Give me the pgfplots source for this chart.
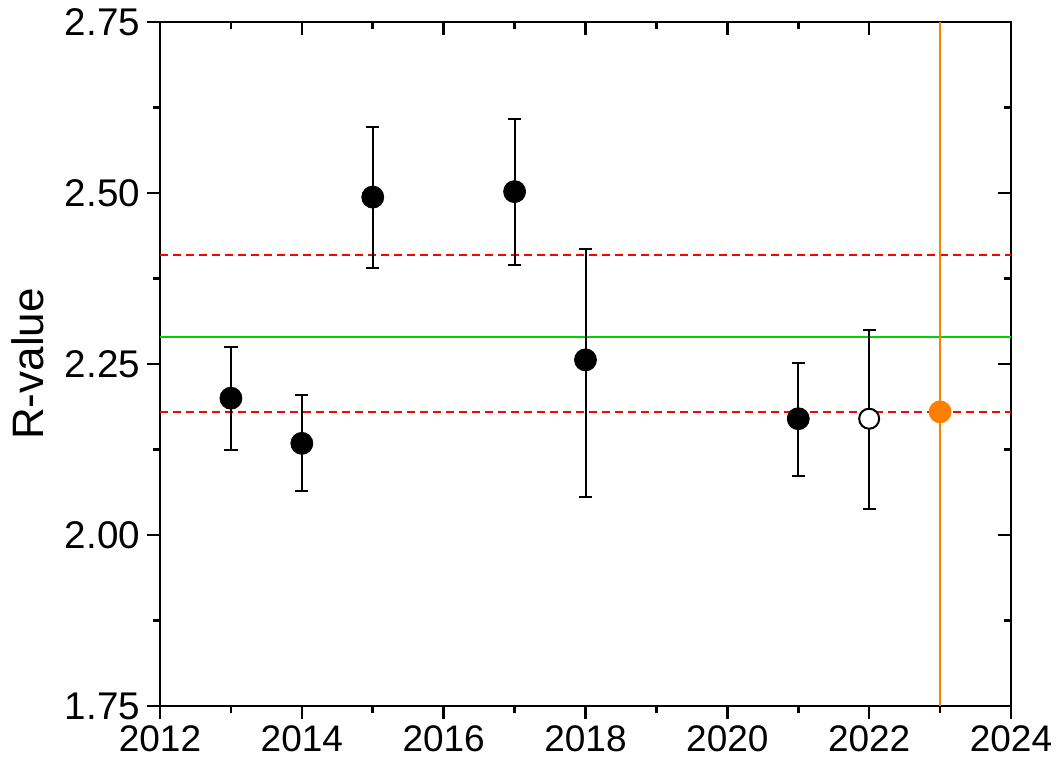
\documentclass[border=0pt]{standalone}
\usepackage{pgfplots}
\pgfplotsset{compat=1.18}
\usepackage{fontspec}
\setmainfont{Liberation Sans}
\definecolor{myorange}{RGB}{255,128,0}
\definecolor{mygreen}{RGB}{0,210,0}
\pgfplotsset{
  common/.style={
    scale only axis, width=425.5bp, height=342bp,
    xmin=2012, xmax=2024, ymin=1.75, ymax=2.75,
    xtick={2012,2014,2016,2018,2020,2022,2024},
    ytick={1.75,2.00,2.25,2.50,2.75},
    minor x tick num=1, minor y tick num=1,
    major tick length=6.5bp, minor tick length=3.5bp,
    axis line style={line width=1.3bp},
    every tick/.append style={black, line width=1.3bp},
    x tick label style={font=\fontsize{18.5bp}{22bp}\selectfont},
    y tick label style={font=\fontsize{19.3bp}{22bp}\selectfont},
  }
}
\begin{document}
\begin{tikzpicture}
% top/right inward ticks (drawn first, so the data lie above them)
\begin{axis}[common,
  xtick pos=right, ytick pos=right, tick align=inside,
  xticklabels={}, yticklabels={},
]
\end{axis}
\begin{axis}[common,
  xtick pos=left, ytick pos=left, tick align=outside,
  xticklabels={2012,2014,2016,2018,2020,2022,2024},
  yticklabels={1.75,2.00,2.25,2.50,2.75},
  ylabel={R-value},
  ylabel style={font=\fontsize{22bp}{26bp}\selectfont, at={(axis description cs:-0.155,0.5)}, anchor=center, rotate=0},
  clip=true,
]
% reference lines
\addplot[mygreen, line width=1bp, forget plot] coordinates {(2012,2.290) (2024,2.290)};
\addplot[red, line width=1bp, dash pattern=on 4bp off 2.5bp, forget plot] coordinates {(2012,2.410) (2024,2.410)};
\addplot[red, line width=1bp, dash pattern=on 4bp off 2.5bp, forget plot] coordinates {(2012,2.180) (2024,2.180)};
% orange uncertainty spanning the whole axis
\addplot[myorange, line width=1bp, forget plot] coordinates {(2023,1.75) (2023,2.75)};
% orange point
\addplot[myorange, only marks, mark=*, mark size=5.5bp] coordinates {(2023,2.180)};
% filled points
\addplot[black, only marks, mark=*, mark size=5.5bp,
  error bars/.cd, y dir=both, y explicit, error bar style={black, line width=1bp},
  error mark options={rotate=90, mark size=3.3bp, line width=1bp}]
  table[x=x, y=y, y error plus=ep, y error minus=em] {
x y ep em
2013 2.200 0.075 0.076
2014 2.134 0.070 0.070
2015 2.494 0.102 0.103
2017 2.502 0.106 0.107
2018 2.256 0.162 0.201
2021 2.170 0.082 0.084
};
% open point
\addplot[black, only marks, mark=*, mark size=5bp, mark options={fill=white, line width=1bp},
  error bars/.cd, y dir=both, y explicit, error bar style={black, line width=1bp},
  error mark options={rotate=90, mark size=3.3bp, line width=1bp}]
  table[x=x, y=y, y error plus=ep, y error minus=em] {
x y ep em
2022 2.170 0.130 0.132
};
\end{axis}
\pgfresetboundingbox
\path[use as bounding box] (-80bp,-29.5bp) rectangle (448.5bp,353bp);
\end{tikzpicture}
\end{document}
